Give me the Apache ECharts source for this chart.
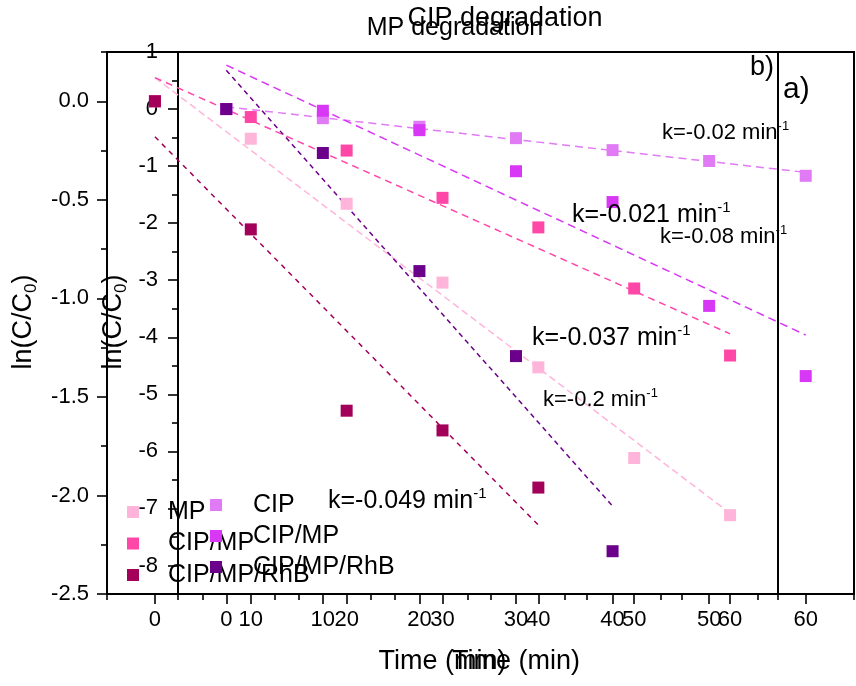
<!DOCTYPE html>
<html><head><meta charset="utf-8">
<script src="https://cdn.jsdelivr.net/npm/echarts@6/dist/echarts.min.js"></script>
<style>html,body{margin:0;padding:0;background:#fff}#c{width:856px;height:686px}</style>
</head><body><div id="c"></div>
<script>
// ---- data ----
const timeFull = [0, 10, 20, 30, 40, 50, 60];
const timeShort = [0, 10, 20, 30, 40];
// panel b) MP degradation
const mpMP = [0, -0.19, -0.52, -0.92, -1.35, -1.81, -2.10];
const mpCIPMP = [0, -0.08, -0.25, -0.49, -0.64, -0.95, -1.29];
const mpCIPMPRhB = [0, -0.65, -1.57, -1.67, -1.96];
// panel a) CIP degradation
const cipCIP = [0, -0.16, -0.31, -0.51, -0.72, -0.91, -1.17];
const cipCIPMP = [0, -0.03, -0.37, -1.09, -1.63, -3.45, -4.68];
const cipCIPMPRhB = [0, -0.77, -2.84, -4.33, -7.75];
// linear fit lines (start, end)
const fitTimeFull = [0, 60];
const fitTimeShort = [0, 40];
const fitMpMP = [0.12, -2.09];
const fitMpCIPMP = [0.12, -1.18];
const fitMpCIPMPRhB = [-0.18, -2.15];
const fitCipCIP = [0.04, -1.11];
const fitCipCIPMP = [0.77, -3.96];
const fitCipCIPMPRhB = [0.68, -6.96];
// ticks
const xMajor = [0, 10, 20, 30, 40, 50, 60];
const xMinor = [-5, 5, 15, 25, 35, 45, 55, 65];
const yMajorB = [-2.5, -2.0, -1.5, -1.0, -0.5, 0.0];
const yMinorB = [-2.25, -1.75, -1.25, -0.75, -0.25, 0.25];
const yMajorA = [-8, -7, -6, -5, -4, -3, -2, -1, 0, 1];
const yMinorA = [-8.5, -7.5, -6.5, -5.5, -4.5, -3.5, -2.5, -1.5, -0.5, 0.5];
const kB = ['-0.037', '-0.021', '-0.049'];
const kA = ['-0.02', '-0.08', '-0.2'];
const namesB = ['MP', 'CIP/MP', 'CIP/MP/RhB'];
const namesA = ['CIP', 'CIP/MP', 'CIP/MP/RhB'];
const colorsB = ['#FFB4DA', '#FF47A8', '#A3005A'];
const colorsA = ['#E07AF5', '#D838F5', '#6B008A'];

const FONT = 'Liberation Sans, Arial, sans-serif';
const zip = (xs, ys) => ys.map((y, i) => [xs[i], y]);

const chart = echarts.init(document.getElementById('c'), null, {renderer: 'canvas'});

function xAxes(grid) {
  return [
    {gridIndex: grid, type: 'value', min: -5, max: 65, position: 'bottom',
      axisLine: {show: false, onZero: false}, splitLine: {show: false},
      axisTick: {customValues: xMajor, length: 10, lineStyle: {color: '#000', width: 1.6}},
      axisLabel: {customValues: xMajor, margin: 15, fontSize: 22, color: '#000', fontFamily: FONT},
      name: 'Time (min)', nameLocation: 'middle', nameGap: 54,
      nameTextStyle: {fontSize: 27, color: '#000', fontFamily: FONT}},
    {gridIndex: grid, type: 'value', min: -5, max: 65, position: 'bottom',
      axisLine: {show: false, onZero: false}, splitLine: {show: false}, axisLabel: {show: false},
      axisTick: {customValues: xMinor, length: 6, lineStyle: {color: '#000', width: 1.6}}}
  ];
}
function yAxes(grid, min, max, major, minor, margin, fmt) {
  return [
    {gridIndex: grid, type: 'value', min: min, max: max, position: 'left',
      axisLine: {show: false, onZero: false}, splitLine: {show: false},
      axisTick: {customValues: major, length: 10, lineStyle: {color: '#000', width: 1.6}},
      axisLabel: {customValues: major, margin: margin, fontSize: 22, color: '#000', fontFamily: FONT, formatter: fmt}},
    {gridIndex: grid, type: 'value', min: min, max: max, position: 'left',
      axisLine: {show: false, onZero: false}, splitLine: {show: false}, axisLabel: {show: false},
      axisTick: {customValues: minor, length: 6, lineStyle: {color: '#000', width: 1.6}}}
  ];
}

function scatter(name, axis, data, color) {
  return {type: 'scatter', name: name, xAxisIndex: axis, yAxisIndex: axis, data: data,
    symbol: 'rect', symbolSize: 12, itemStyle: {color: color, opacity: 1}, z: 5};
}
function fit(axis, xs, ys, color, dash) {
  return {type: 'line', xAxisIndex: axis, yAxisIndex: axis, data: zip(xs, ys), symbol: 'none',
    silent: true, lineStyle: {color: color, width: 1.5, type: dash}, z: 3};
}

const series = [
  fit(0, fitTimeFull, fitMpMP, colorsB[0], [7, 4]),
  fit(0, fitTimeFull, fitMpCIPMP, colorsB[1], [7, 5]),
  fit(0, fitTimeShort, fitMpCIPMPRhB, colorsB[2], [5, 5]),
  fit(2, fitTimeFull, fitCipCIP, colorsA[0], [8, 5]),
  fit(2, fitTimeFull, fitCipCIPMP, colorsA[1], [8, 5]),
  fit(2, fitTimeShort, fitCipCIPMPRhB, colorsA[2], [5, 4]),
  scatter('B·' + namesB[0], 0, zip(timeFull, mpMP), colorsB[0]),
  scatter('B·' + namesB[1], 0, zip(timeFull, mpCIPMP), colorsB[1]),
  scatter('B·' + namesB[2], 0, zip(timeShort, mpCIPMPRhB), colorsB[2]),
  scatter('A·' + namesA[0], 2, zip(timeFull, cipCIP), colorsA[0]),
  scatter('A·' + namesA[1], 2, zip(timeFull, cipCIPMP), colorsA[1]),
  scatter('A·' + namesA[2], 2, zip(timeShort, cipCIPMPRhB), colorsA[2])
];

function kText(x, y, k, size) {
  return {type: 'text', x: x, y: y, silent: true, z: 10,
    style: {text: '{m|k=' + k + ' min}{s|-1}', align: 'left', verticalAlign: 'middle',
      fill: '#000', fontFamily: FONT,
      rich: {m: {fontSize: size, fontFamily: FONT, lineHeight: size + 4, fill: '#000'},
             s: {fontSize: Math.round(size * 0.6), fontFamily: FONT, verticalAlign: 'top', fill: '#000'}}}};
}
function plain(x, y, txt, size, align) {
  return {type: 'text', x: x, y: y, silent: true, z: 10,
    style: {text: txt, fontSize: size, fontFamily: FONT, fill: '#000', align: align || 'center', verticalAlign: 'middle'}};
}
function yName(x, y) {
  return {type: 'text', x: x, y: y, rotation: Math.PI / 2, silent: true, z: 10,
    style: {text: '{m|ln(C/C}{b|0}{m|)}', align: 'center', verticalAlign: 'middle', fill: '#000', fontFamily: FONT,
      rich: {m: {fontSize: 27, lineHeight: 32, fontFamily: FONT, fill: '#000'},
             b: {fontSize: 17, lineHeight: 17, verticalAlign: 'bottom', fontFamily: FONT, fill: '#000'}}}};
}

const legendBase = {orient: 'vertical', itemWidth: 12, itemHeight: 12, padding: 0, icon: 'rect',
  selectedMode: false, formatter: n => n.replace(/^[AB]·/, ''),
  textStyle: {fontSize: 25, lineHeight: 26, color: '#000', fontFamily: FONT}};

chart.setOption({
  animation: false,
  backgroundColor: '#fff',
  grid: [
    {left: 107, top: 52, width: 671, height: 542, show: true, borderColor: '#000', borderWidth: 2, outerBoundsMode: 'none', containLabel: false},
    {left: 178, top: 52, width: 676, height: 542, show: true, borderColor: '#000', borderWidth: 2, outerBoundsMode: 'none', containLabel: false}
  ],
  xAxis: [...xAxes(0), ...xAxes(1)],
  yAxis: [...yAxes(0, -2.5, 0.25, yMajorB, yMinorB, 18, v => v.toFixed(1)),
          ...yAxes(1, -8.5, 1, yMajorA, yMinorA, 20, v => String(v))],
  legend: [
    Object.assign({}, legendBase, {data: namesB.map(n => 'B·' + n), left: 127, top: 499, itemGap: 5.5,
      textStyle: Object.assign({}, legendBase.textStyle, {padding: [0, 0, 0, 24]})}),
    Object.assign({}, legendBase, {data: namesA.map(n => 'A·' + n), left: 210, top: 492, itemGap: 5,
      textStyle: Object.assign({}, legendBase.textStyle, {padding: [0, 0, 0, 26]})})
  ],
  series: series,
  graphic: [
    plain(455, 28, 'MP degradation', 25),
    plain(505, 19, 'CIP degradation', 27),
    plain(750, 68, 'b)', 27, 'left'),
    plain(783, 90, 'a)', 30, 'left'),
    yName(24, 322),
    yName(114, 322),
    kText(532, 338, kB[0], 25),
    kText(572, 215, kB[1], 25),
    kText(328, 501, kB[2], 25),
    kText(662, 133, kA[0], 22),
    kText(660, 237, kA[1], 22),
    kText(543, 400, kA[2], 22)
  ]
});
</script></body></html>
